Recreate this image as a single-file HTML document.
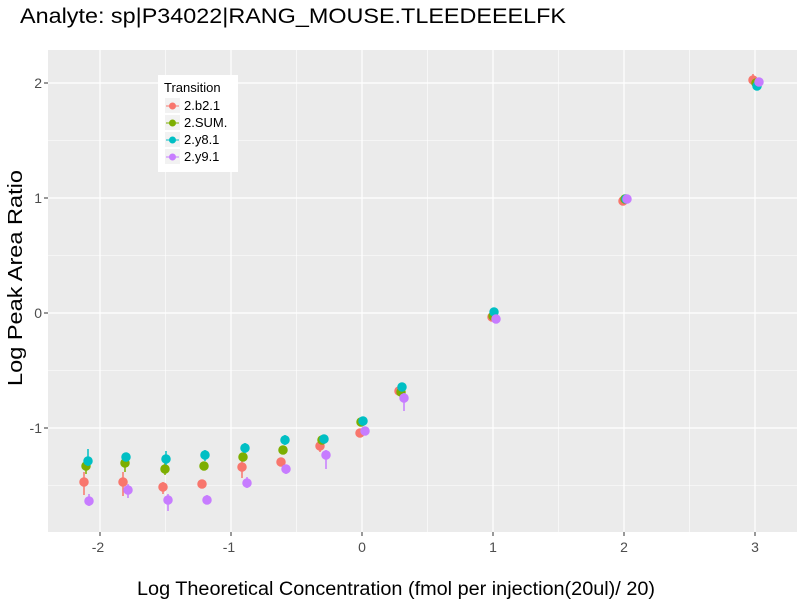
<!DOCTYPE html><html><head><style>body{margin:0;background:#fff}svg{display:block}text{font-family:"Liberation Sans",sans-serif}</style></head><body>
<svg width="800" height="600" xmlns="http://www.w3.org/2000/svg">
<text x="20" y="23" font-size="21" fill="#000" textLength="546" lengthAdjust="spacingAndGlyphs">Analyte: sp|P34022|RANG_MOUSE.TLEEDEEELFK</text>
<rect x="48" y="50" width="749" height="482" fill="#EBEBEB"/>
<g stroke="#fff" stroke-width="0.6">
<line x1="165.5" y1="50" x2="165.5" y2="532"/><line x1="296.5" y1="50" x2="296.5" y2="532"/><line x1="427.5" y1="50" x2="427.5" y2="532"/><line x1="558.5" y1="50" x2="558.5" y2="532"/><line x1="689.5" y1="50" x2="689.5" y2="532"/>
<line x1="48" y1="140.5" x2="797" y2="140.5"/><line x1="48" y1="255.5" x2="797" y2="255.5"/><line x1="48" y1="370.5" x2="797" y2="370.5"/><line x1="48" y1="485.5" x2="797" y2="485.5"/>
</g>
<g stroke="#fff" stroke-width="1.2">
<line x1="100" y1="50" x2="100" y2="532"/><line x1="231" y1="50" x2="231" y2="532"/><line x1="362" y1="50" x2="362" y2="532"/><line x1="493" y1="50" x2="493" y2="532"/><line x1="624" y1="50" x2="624" y2="532"/><line x1="755" y1="50" x2="755" y2="532"/>
<line x1="48" y1="83" x2="797" y2="83"/><line x1="48" y1="198" x2="797" y2="198"/><line x1="48" y1="313" x2="797" y2="313"/><line x1="48" y1="428" x2="797" y2="428"/>
</g>
<g stroke-width="1.5">
<g stroke="#F8766D" fill="#F8766D">
<line x1="84" y1="472" x2="84" y2="495"/><line x1="123" y1="472" x2="123" y2="496"/><line x1="163" y1="482" x2="163" y2="494"/><line x1="242" y1="460" x2="242" y2="478"/><line x1="320" y1="440" x2="320" y2="452"/><line x1="753" y1="74" x2="753" y2="86"/>
<circle cx="84" cy="482" r="4"/><circle cx="123" cy="482" r="4"/><circle cx="163" cy="487" r="4"/><circle cx="202" cy="484" r="4"/><circle cx="242" cy="467" r="4"/><circle cx="281" cy="462" r="4"/><circle cx="320" cy="446" r="4"/><circle cx="360" cy="433" r="4"/><circle cx="399" cy="391" r="4"/><circle cx="492" cy="317" r="4"/><circle cx="623" cy="201" r="4"/><circle cx="753" cy="80" r="4"/></g>
<g stroke="#7CAE00" fill="#7CAE00">
<line x1="86" y1="461" x2="86" y2="474"/><line x1="125" y1="456" x2="125" y2="472"/><line x1="165" y1="463" x2="165" y2="475"/>
<circle cx="86" cy="466" r="4"/><circle cx="125" cy="463" r="4"/><circle cx="165" cy="469" r="4"/><circle cx="204" cy="466" r="4"/><circle cx="243" cy="457" r="4"/><circle cx="283" cy="450" r="4"/><circle cx="322" cy="440" r="4"/><circle cx="361" cy="422" r="4"/><circle cx="401" cy="392" r="4"/><circle cx="493" cy="316" r="4"/><circle cx="625" cy="199" r="4"/><circle cx="756" cy="83" r="4"/></g>
<g stroke="#00BFC4" fill="#00BFC4">
<line x1="88" y1="449" x2="88" y2="466"/><line x1="166" y1="451" x2="166" y2="465"/><line x1="205" y1="450" x2="205" y2="461"/><line x1="245" y1="443" x2="245" y2="453"/><line x1="285" y1="435" x2="285" y2="445"/>
<circle cx="88" cy="461" r="4"/><circle cx="126" cy="457" r="4"/><circle cx="166" cy="459" r="4"/><circle cx="205" cy="455" r="4"/><circle cx="245" cy="448" r="4"/><circle cx="285" cy="440" r="4"/><circle cx="324" cy="439" r="4"/><circle cx="363" cy="421" r="4"/><circle cx="402" cy="387" r="4"/><circle cx="494" cy="312" r="4"/><circle cx="626" cy="199" r="4"/><circle cx="757" cy="86" r="4"/></g>
<g stroke="#C77CFF" fill="#C77CFF">
<line x1="89" y1="494" x2="89" y2="506"/><line x1="128" y1="484" x2="128" y2="498"/><line x1="168" y1="494" x2="168" y2="511"/><line x1="207" y1="495" x2="207" y2="504"/><line x1="247" y1="477" x2="247" y2="488"/><line x1="286" y1="465" x2="286" y2="474"/><line x1="326" y1="450" x2="326" y2="469"/><line x1="404" y1="393" x2="404" y2="411"/>
<circle cx="89" cy="501" r="4"/><circle cx="128" cy="490" r="4"/><circle cx="168" cy="500" r="4"/><circle cx="207" cy="500" r="4"/><circle cx="247" cy="483" r="4"/><circle cx="286" cy="469" r="4"/><circle cx="326" cy="455" r="4"/><circle cx="365" cy="431" r="4"/><circle cx="404" cy="398" r="4"/><circle cx="496" cy="319" r="4"/><circle cx="627" cy="199" r="4"/><circle cx="759" cy="82" r="4"/></g>
</g>
<g stroke="#333" stroke-width="1"><line x1="44" y1="83" x2="48" y2="83"/><line x1="44" y1="198" x2="48" y2="198"/><line x1="44" y1="313" x2="48" y2="313"/><line x1="44" y1="428" x2="48" y2="428"/>
<line x1="100" y1="532" x2="100" y2="536"/><line x1="231" y1="532" x2="231" y2="536"/><line x1="362" y1="532" x2="362" y2="536"/><line x1="493" y1="532" x2="493" y2="536"/><line x1="624" y1="532" x2="624" y2="536"/><line x1="755" y1="532" x2="755" y2="536"/></g>
<g font-size="14" fill="#4D4D4D" text-anchor="end"><text x="42" y="88">2</text><text x="42" y="203">1</text><text x="42" y="318">0</text><text x="42" y="433">-1</text></g>
<g font-size="14" fill="#4D4D4D" text-anchor="middle"><text x="98" y="552">-2</text><text x="229" y="552">-1</text><text x="362" y="552">0</text><text x="493" y="552">1</text><text x="624" y="552">2</text><text x="755" y="552">3</text></g>
<text x="137" y="595" font-size="19" textLength="518" lengthAdjust="spacingAndGlyphs">Log Theoretical Concentration (fmol per injection(20ul)/ 20)</text>
<text transform="translate(22,386) rotate(-90)" font-size="20" textLength="216" lengthAdjust="spacingAndGlyphs">Log Peak Area Ratio</text>
<rect x="158" y="75" width="80" height="97" fill="#fff"/>
<text x="164" y="92" font-size="13">Transition</text>
<g font-size="13"><rect x="165" y="98" width="15" height="15" fill="#F2F2F2"/><rect x="165" y="115" width="15" height="15" fill="#F2F2F2"/><rect x="165" y="132" width="15" height="15" fill="#F2F2F2"/><rect x="165" y="149" width="15" height="15" fill="#F2F2F2"/>
<line x1="166" y1="106" x2="179" y2="106" stroke="#F8766D"/><circle cx="172.5" cy="106" r="3.5" fill="#F8766D"/><text x="184" y="110">2.b2.1</text>
<line x1="166" y1="123" x2="179" y2="123" stroke="#7CAE00"/><circle cx="172.5" cy="123" r="3.5" fill="#7CAE00"/><text x="184" y="127">2.SUM.</text>
<line x1="166" y1="140" x2="179" y2="140" stroke="#00BFC4"/><circle cx="172.5" cy="140" r="3.5" fill="#00BFC4"/><text x="184" y="144">2.y8.1</text>
<line x1="166" y1="157" x2="179" y2="157" stroke="#C77CFF"/><circle cx="172.5" cy="157" r="3.5" fill="#C77CFF"/><text x="184" y="161">2.y9.1</text></g>
</svg></body></html>
